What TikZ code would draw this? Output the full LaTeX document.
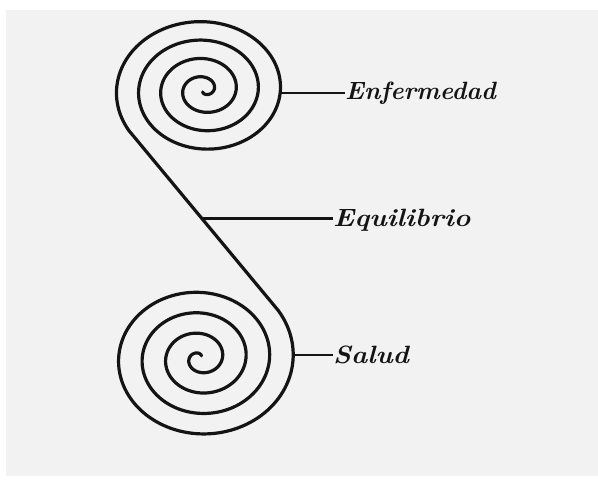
\documentclass[tikz,border=0pt]{standalone}
\usetikzlibrary{calc}
\definecolor{panel}{HTML}{F2F2F2}
\definecolor{ink}{HTML}{141414}
\begin{document}
\begin{tikzpicture}[x=1pt,y=-1pt,
  spiral/.style={line width=3.2pt, line cap=round, line join=round, draw=ink},
  conn/.style={line width=2.8pt, draw=ink},
  lbl/.style={anchor=west, inner sep=0pt, text=ink,
    font=\fontsize{25}{25}\selectfont\bfseries\itshape}]
\fill[white] (0,0) rectangle (598,481);
\fill[panel] (6,10) rectangle (598,476);
\useasboundingbox (0,0) rectangle (598,481);
% top spiral (Enfermedad)
\draw[spiral] plot[domain=60:1473, samples=500, variable=\t, smooth]
  ({204-1.08*(\t/360*20.5-1)*cos(\t)}, {90+0.9*(\t/360*20.5-1)*sin(\t)});
% bottom spiral (Salud)
\draw[spiral] plot[domain=60:1475, samples=500, variable=\t, smooth]
  ({200+1.15*(\t/360*20.5-1)*cos(\t)}, {358-(\t/360*20.5-1)*sin(\t)});
\coordinate (topend) at ({204-1.08*(1473/360*20.5-1)*cos(1473)}, {90+0.9*(1473/360*20.5-1)*sin(1473)});
\coordinate (botend) at ({200+1.15*(1475/360*20.5-1)*cos(1475)}, {358-(1475/360*20.5-1)*sin(1475)});
\draw[spiral] (topend) -- (botend);
% labels
\coordinate (eA) at (281,93);
\node[lbl] (enf) at (345,93) {Enfermedad};
\draw[conn] (eA) -- (enf.west);
\coordinate (qA) at ($(topend)!0.49!(botend)$);
\node[lbl, xscale=1.12] (equ) at (333,220) {Equilibrio};
\draw[conn] (qA) -- (qA -| equ.west);
\coordinate (sA) at (292,355);
\node[lbl, xscale=1.1] (sal) at (333,355) {Salud};
\draw[conn] (sA) -- (sal.west);
\end{tikzpicture}
\end{document}
